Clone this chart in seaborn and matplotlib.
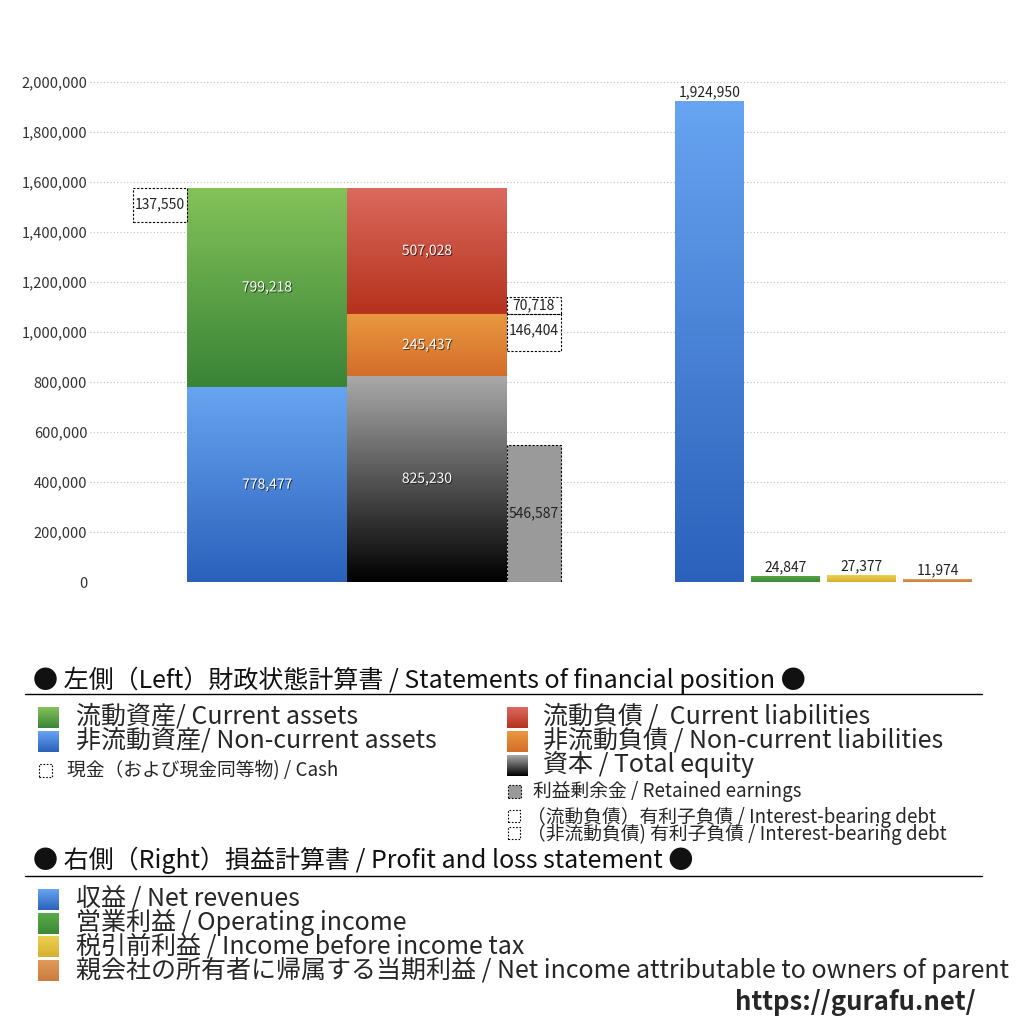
import matplotlib
matplotlib.use("Agg")
import matplotlib.pyplot as plt
import matplotlib.patheffects as pe
import numpy as np
import seaborn as sns
from matplotlib.colors import to_rgb
from matplotlib.patches import Rectangle

# ---- data (thousands of yen) ----
asset_names = ["非流動資産", "流動資産"]
asset_values = [778477, 799218]
liab_names = ["資本", "非流動負債", "流動負債"]
liab_values = [825230, 245437, 507028]
cash_value = 137550
retained_value = 546587
debt_names = ["（非流動負債）有利子負債", "（流動負債）有利子負債"]
debt_values = [146404, 70718]
pl_names = ["収益", "営業利益", "税引前利益", "親会社の所有者に帰属する当期利益"]
pl_values = [1924950, 24847, 27377, 11974]
y_ticks = [0, 200000, 400000, 600000, 800000, 1000000, 1200000, 1400000, 1600000, 1800000, 2000000]

# ---- style ----
sns.set_theme(style="white")
plt.rcParams["font.family"] = ["Noto Sans CJK JP", "DejaVu Sans"]

GRAD = {
    "green": ("#84c25a", "#3a8437"),
    "blue": ("#67a4f1", "#2b61bb"),
    "red": ("#db6a5e", "#b5321d"),
    "orange": ("#e9983f", "#d36d2b"),
    "black": ("#aaaaaa", "#000000"),
    "pl_green": ("#5aaa48", "#3c8a34"),
    "pl_yellow": ("#ecd050", "#d6b030"),
    "pl_orange": ("#e09a5a", "#cc7c3c"),
}


def gradient_fill(ax, patch, colors, zorder=2):
    top, bottom = np.array(to_rgb(colors[0])), np.array(to_rgb(colors[1]))
    t = np.linspace(0, 1, 128)[:, None, None]
    img = top * (1 - t) + bottom * t
    x0, y0 = patch.get_x(), patch.get_y()
    w, h = patch.get_width(), patch.get_height()
    im = ax.imshow(img, extent=(x0, x0 + w, y0, y0 + h), origin="upper",
                   aspect="auto", zorder=zorder, interpolation="bilinear")
    im.set_clip_path(patch)
    patch.set_facecolor("none")


fig = plt.figure(figsize=(10.24, 10.24), dpi=100)
ax = fig.add_axes([90 / 1024, 1 - 582 / 1024, (1005 - 90) / 1024, (582 - 70) / 1024])

shadow = [pe.withSimplePatchShadow(offset=(0.7, -0.7), shadow_rgbFace="black", alpha=0.6)]
lbl = 10

# ---- balance sheet: assets ----
bottom = 0
for val, key in zip(asset_values, ["blue", "green"]):
    bar = ax.bar(267, val, width=160, bottom=bottom, linewidth=0, zorder=2)[0]
    gradient_fill(ax, bar, GRAD[key])
    ax.text(267, bottom + val / 2, f"{val:,}", ha="center", va="center",
            color="white", fontsize=lbl, zorder=5, path_effects=shadow)
    bottom += val
total_assets = bottom

# cash box at top of assets
ax.bar(160, cash_value, width=54, bottom=total_assets - cash_value, fill=False,
       edgecolor="black", linestyle=(0, (2, 1.5)), linewidth=0.8, zorder=3)
ax.text(160, total_assets - cash_value / 2, f"{cash_value:,}", ha="center", va="center",
        fontsize=lbl, color="#222222", zorder=5)

# ---- balance sheet: liabilities & equity ----
bottom = 0
for val, key in zip(liab_values, ["black", "orange", "red"]):
    bar = ax.bar(427, val, width=160, bottom=bottom, linewidth=0, zorder=2)[0]
    gradient_fill(ax, bar, GRAD[key])
    ax.text(427, bottom + val / 2, f"{val:,}", ha="center", va="center",
            color="white", fontsize=lbl, zorder=5, path_effects=shadow)
    bottom += val
current_liab_bottom = liab_values[0] + liab_values[1]

# retained earnings
ax.bar(534, retained_value, width=54, color="#9a9a9a", edgecolor="black",
       linestyle=(0, (2, 1.5)), linewidth=0.8, zorder=3)
ax.text(534, retained_value / 2, f"{retained_value:,}", ha="center", va="center",
        fontsize=lbl, color="#222222", zorder=5)

# interest-bearing debt boxes
nc_debt, c_debt = debt_values
ax.bar(534, nc_debt, width=54, bottom=current_liab_bottom - nc_debt, fill=False,
       edgecolor="black", linestyle=(0, (2, 1.5)), linewidth=0.8, zorder=3)
ax.text(534, current_liab_bottom - nc_debt / 2 + 8000, f"{nc_debt:,}", ha="center",
        va="center", fontsize=lbl, color="#222222", zorder=5)
ax.bar(534, c_debt, width=54, bottom=current_liab_bottom, fill=False,
       edgecolor="black", linestyle=(0, (2, 1.5)), linewidth=0.8, zorder=3)
ax.text(534, current_liab_bottom + c_debt / 2, f"{c_debt:,}", ha="center",
        va="center", fontsize=lbl, color="#222222", zorder=5)

# ---- profit and loss (seaborn) ----
pl_x = [709.5, 785.5, 861.5, 937.5]
pl_keys = ["blue", "pl_green", "pl_yellow", "pl_orange"]
pl_palette = {n: GRAD[k][1] for n, k in zip(pl_names, pl_keys)}
sns.barplot(x=pl_x, y=pl_values, hue=pl_names, palette=pl_palette, native_scale=True,
            width=69 / 76, legend=False, saturation=1, errorbar=None, linewidth=0, ax=ax)
for cont, key in zip(ax.containers[-len(pl_names):], pl_keys):
    for bar in cont:
        if bar.get_height() > 0:
            gradient_fill(ax, bar, GRAD[key])
    ax.bar_label(cont, labels=[f"{b.get_height():,.0f}" if b.get_height() > 0 else "" for b in cont],
                 padding=1, fontsize=lbl, color="#222222")

# ---- axes styling ----
ax.set_xlim(90, 1005)
ax.set_ylim(0, 2048000)
ax.set_yticks(y_ticks)
ax.set_yticklabels([f"{v:,}" for v in y_ticks], fontsize=10.5, color="#333333")
ax.set_xticks([])
ax.set_xlabel("")
ax.set_ylabel("")
ax.tick_params(axis="y", length=0, pad=2)
ax.yaxis.grid(True, linestyle=(0, (1, 2)), color="#c0c0c0", linewidth=0.8)
ax.set_axisbelow(True)
for s in ax.spines.values():
    s.set_visible(False)

# ---- legend panel (pixel coordinates) ----
lax = fig.add_axes([0, 0, 1, 1], zorder=-1)
lax.set_xlim(0, 1024)
lax.set_ylim(1024, 0)
lax.axis("off")


def swatch(x, y, size, key=None, face=None, dashed=False):
    r = Rectangle((x, y + size), size, -size, linewidth=0.8 if dashed else 0,
                  edgecolor="black", facecolor=face if face else "none",
                  linestyle=(0, (1.5, 1.5)) if dashed else "-")
    lax.add_patch(r)
    if key:
        gradient_fill(lax, r, GRAD[key])


big, small = 18, 13.5
lax.text(33, 680, "● 左側（Left）財政状態計算書 / Statements of financial position ●",
         fontsize=big, va="center", color="#111111")
lax.plot([25, 982], [694, 694], color="black", linewidth=1)

swatch(38, 707, 21, "green")
lax.text(76, 717, "流動資産/ Current assets", fontsize=big, va="center")
swatch(38, 731, 21, "blue")
lax.text(76, 741, "非流動資産/ Non-current assets", fontsize=big, va="center")
swatch(39, 764, 13, dashed=True)
lax.text(67, 771, "現金（および現金同等物) / Cash", fontsize=small, va="center")

swatch(507, 707, 21, "red")
lax.text(543, 717, "流動負債 /  Current liabilities", fontsize=big, va="center")
swatch(507, 731, 21, "orange")
lax.text(543, 741, "非流動負債 / Non-current liabilities", fontsize=big, va="center")
swatch(507, 755, 21, "black")
lax.text(543, 765, "資本 / Total equity", fontsize=big, va="center")
swatch(508, 785, 13, face="#9a9a9a", dashed=True)
lax.text(533, 792, "利益剰余金 / Retained earnings", fontsize=small, va="center")
swatch(508, 810, 12, dashed=True)
lax.text(527, 817, "（流動負債）有利子負債 / Interest-bearing debt", fontsize=small, va="center")
swatch(508, 827, 12, dashed=True)
lax.text(527, 834, "（非流動負債) 有利子負債 / Interest-bearing debt", fontsize=small, va="center")

lax.text(33, 860, "● 右側（Right）損益計算書 / Profit and loss statement ●",
         fontsize=big, va="center", color="#111111")
lax.plot([25, 982], [876, 876], color="black", linewidth=1)

pl_legend = [
    "収益 / Net revenues",
    "営業利益 / Operating income",
    "税引前利益 / Income before income tax",
    "親会社の所有者に帰属する当期利益 / Net income attributable to owners of parent",
]
for i, (txt, key) in enumerate(zip(pl_legend, pl_keys)):
    y = 889 + i * 23.7
    swatch(38, y, 21, key)
    lax.text(76, y + 10, txt, fontsize=big, va="center")

lax.text(735, 1002, "https://gurafu.net/", fontsize=18.5, fontweight="bold", va="center")

fig.savefig("out.png", dpi=100, facecolor="white")
